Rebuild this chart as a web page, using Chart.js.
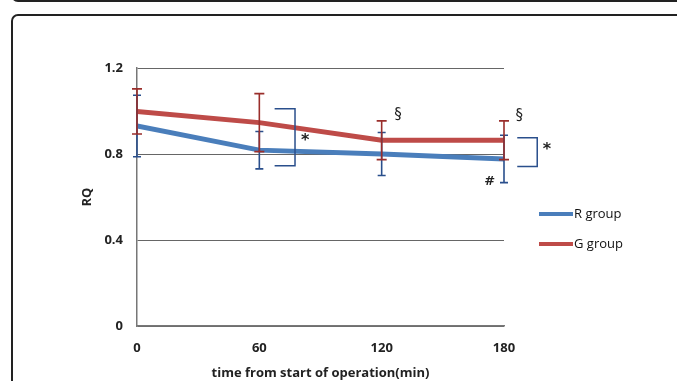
<!DOCTYPE html>
<html>
<head>
<meta charset="utf-8">
<script src="https://cdn.jsdelivr.net/npm/chart.js@4.4.0/dist/chart.umd.min.js"></script>
<style>
  body { margin: 0; background: #fff; width: 677px; height: 381px; overflow: hidden; position: relative; }
  .panel { position: absolute; border: 2px solid #222; border-radius: 7px; box-sizing: border-box; }
  #prev { left: 11px; top: -30px; width: 700px; height: 32px; }
  #main { left: 11px; top: 14px; width: 700px; height: 420px; }
  canvas { position: absolute; left: 0; top: 0; }
</style>
</head>
<body>
<div class="panel" id="prev"></div>
<div class="panel" id="main"></div>
<canvas id="rqChart" width="677" height="381"></canvas>
<script>
// minutes from start of operation
const times = [0, 60, 120, 180];
const seriesNames = ['R group', 'G group'];
const rValues = [0.93, 0.818, 0.80, 0.777];
const rErrors = [0.143, 0.087, 0.10, 0.11];
const gValues = [0.998, 0.946, 0.864, 0.864];
const gErrors = [0.105, 0.135, 0.09, 0.09];
const yTicks = [0, 0.4, 0.8, 1.2];

// significance brackets and symbols (data coordinates)
const brackets = [
    { x1: 67.5, x2: 77.5, top: 1.01, bottom: 0.745 },
    { x1: 186.5, x2: 196.3, top: 0.876, bottom: 0.742 }
];
const symbols = [
    { text: '*', x: 82.5, y: 0.875 },
    { text: '*', x: 201, y: 0.834 },
    { text: '§', x: 128, y: 0.98 },
    { text: '§', x: 187.5, y: 0.977 },
    { text: '#', x: 173, y: 0.672 }
];

const blue = '#4a7ebb';
const red = '#be4b48';
const blueDark = '#2a4f8c';
const redDark = '#9a2e2b';
const font = "'Open Sans', 'DejaVu Sans', sans-serif";

function toPoints(values) {
    return times.map((t, i) => ({ x: t, y: values[i] }));
}

const errorBars = {
    id: 'errorBars',
    afterDatasetsDraw(chart) {
        const ctx = chart.ctx;
        const xs = chart.scales.x;
        const ys = chart.scales.y;
        const sets = [
            { vals: rValues, errs: rErrors, color: blueDark, cap: 4 },
            { vals: gValues, errs: gErrors, color: redDark, cap: 5 }
        ];
        ctx.save();
        ctx.lineWidth = 1.6;
        sets.forEach(s => {
            ctx.strokeStyle = s.color;
            times.forEach((t, i) => {
                const px = xs.getPixelForValue(t);
                const hi = ys.getPixelForValue(s.vals[i] + s.errs[i]);
                const lo = ys.getPixelForValue(s.vals[i] - s.errs[i]);
                ctx.beginPath();
                ctx.moveTo(px, hi); ctx.lineTo(px, lo);
                ctx.moveTo(px - s.cap, hi); ctx.lineTo(px + s.cap, hi);
                ctx.moveTo(px - s.cap, lo); ctx.lineTo(px + s.cap, lo);
                ctx.stroke();
            });
        });

        // brackets
        ctx.strokeStyle = blueDark;
        ctx.lineWidth = 1.5;
        brackets.forEach(b => {
            const x1 = xs.getPixelForValue(b.x1), x2 = xs.getPixelForValue(b.x2);
            const t = ys.getPixelForValue(b.top), bt = ys.getPixelForValue(b.bottom);
            ctx.beginPath();
            ctx.moveTo(x1, t); ctx.lineTo(x2, t); ctx.lineTo(x2, bt); ctx.lineTo(x1, bt);
            ctx.stroke();
        });

        // symbols
        ctx.fillStyle = '#222';
        ctx.textAlign = 'center';
        ctx.textBaseline = 'middle';
        symbols.forEach(s => {
            const px = xs.getPixelForValue(s.x), py = ys.getPixelForValue(s.y);
            if (s.text === '*') {
                ctx.font = "bold 16px 'DejaVu Sans', sans-serif";
                ctx.fillText(s.text, px, py + 3);
            } else if (s.text === '#') {
                ctx.font = "bold 13px 'DejaVu Sans', sans-serif";
                ctx.fillText(s.text, px, py);
            } else {
                ctx.font = "15px 'DejaVu Sans', sans-serif";
                ctx.fillText(s.text, px, py);
            }
        });

        // legend
        ctx.textAlign = 'left';
        ctx.font = "13px " + font;
        chart.data.datasets.forEach((ds, i) => {
            const y = 214 + i * 30;
            ctx.strokeStyle = ds.borderColor;
            ctx.lineWidth = 4;
            ctx.beginPath();
            ctx.moveTo(539, y); ctx.lineTo(573, y);
            ctx.stroke();
            ctx.fillStyle = '#111';
            ctx.fillText(ds.label, 574, y);
        });
        ctx.restore();
    }
};

new Chart(document.getElementById('rqChart'), {
    type: 'line',
    data: {
        datasets: [
            { label: seriesNames[0], data: toPoints(rValues), borderColor: blue, backgroundColor: blue, borderWidth: 5, pointRadius: 0, tension: 0 },
            { label: seriesNames[1], data: toPoints(gValues), borderColor: red, backgroundColor: red, borderWidth: 5, pointRadius: 0, tension: 0 }
        ]
    },
    options: {
        responsive: false,
        animation: false,
        layout: { padding: { left: 77, right: 173, top: 68, bottom: 0 } },
        plugins: { legend: { display: false }, tooltip: { enabled: false } },
        scales: {
            x: {
                type: 'linear',
                min: 0,
                max: 180,
                afterFit: s => { s.height = 55; },
                afterBuildTicks: s => { s.ticks = times.map(v => ({ value: v })); },
                grid: { display: false, drawTicks: false },
                border: { color: '#777', width: 1.5 },
                ticks: { padding: 14, color: '#222', font: { family: font, size: 13, weight: 'bold' } },
                title: { display: true, text: 'time from start of operation(min)', color: '#222', padding: { top: 0, bottom: 0 }, font: { family: font, size: 13, weight: 'bold' } }
            },
            y: {
                min: 0,
                max: 1.2,
                afterFit: s => { s.width = 60; },
                afterBuildTicks: s => { s.ticks = yTicks.map(v => ({ value: v })); },
                grid: { color: '#666', lineWidth: 1, drawTicks: false },
                border: { color: '#777', width: 1.5 },
                ticks: { padding: 14, color: '#222', font: { family: font, size: 13, weight: 'bold' }, callback: v => String(v) },
                title: { display: true, text: 'RQ', color: '#222', padding: { top: 2, bottom: 0 }, font: { family: font, size: 13, weight: 'bold' } }
            }
        }
    },
    plugins: [errorBars]
});
</script>
</body>
</html>
